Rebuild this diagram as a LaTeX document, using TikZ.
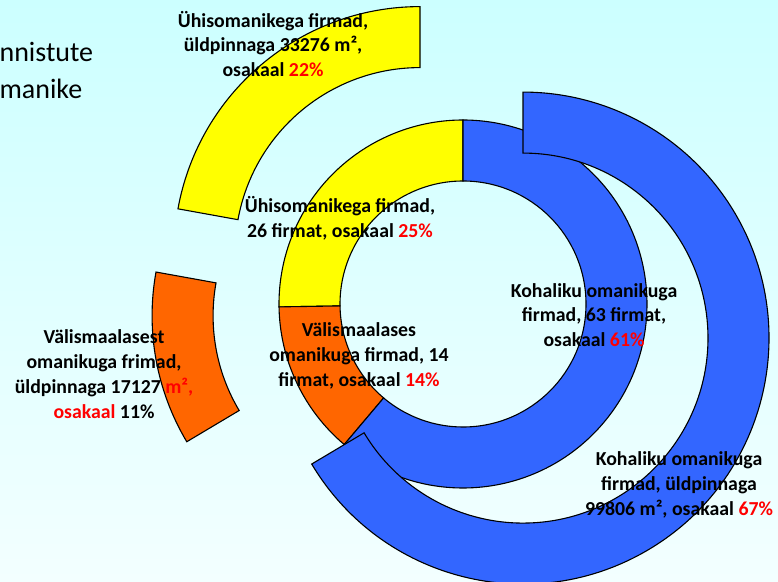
\documentclass[tikz,border=0pt]{standalone}
\usepackage{fontspec}
\setmainfont{Carlito}
\usetikzlibrary{positioning}

\definecolor{skytop}{RGB}{204,255,255}
\definecolor{skybot}{RGB}{243,255,255}
\definecolor{pieyellow}{RGB}{255,255,0}
\definecolor{pieorange}{RGB}{255,102,0}
\definecolor{pieblue}{RGB}{51,102,255}

% ring piece: colour, centre, inner r, outer r, from, to, explode angle, explode dist
\newcommand{\ringpart}[8]{%
  \filldraw[fill=#1, shift={(#2)}, shift={(#7:#8)}]
    (#5:#4) arc[start angle=#5, end angle=#6, radius=#4]
    -- (#6:#3) arc[start angle=#6, end angle=#5, radius=#3] -- cycle;}

\begin{document}
\begin{tikzpicture}[x=1pt,y=1pt,line width=1.1pt,
    lbl/.style={font=\bfseries\fontsize{19.8}{24.8}\selectfont, align=center, inner sep=0pt},
    ttl/.style={font=\fontsize{28}{37}\selectfont, align=left, inner sep=0pt, anchor=west}]
    \useasboundingbox (0,0) rectangle (778,581);
    \shade[top color=skytop, bottom color=skybot] (0,0) rectangle (778,581);
    \coordinate (C) at (463,277);

    % inner ring
    \ringpart{pieyellow}{C}{123}{184}{90}{180.9}{0}{0}
    \ringpart{pieorange}{C}{123}{184}{180.9}{229.8}{0}{0}
    \ringpart{pieblue}{C}{123}{184}{229.8}{450}{0}{0}

    % outer ring, pulled apart
    \ringpart{pieyellow}{C}{185}{246}{90}{169.75}{129.9}{67}
    \ringpart{pieorange}{C}{185}{246}{169.75}{210.8}{190.3}{66}
    \ringpart{pieblue}{C}{185}{246}{210.8}{450}{330.4}{69}

    \node[ttl] (title) at (-1,529) {nnistute};
    \node[ttl] (title2) at (-1,492) {manike};

    \node[lbl] (yellowout) at (273,537) {Ühisomanikega firmad,\\ üldpinnaga 33276 m²,\\ osakaal \textcolor{red}{22\%}};
    \node[lbl] (yellowin) at (340,363) {Ühisomanikega firmad,\\ 26 firmat, osakaal \textcolor{red}{25\%}};
    \node[lbl] (orangeout) at (104,207) {Välismaalasest\\ omanikuga frimad,\\ üldpinnaga 17127 \textcolor{red}{m²,}\\ \textcolor{red}{osakaal} 11\%};
    \node[lbl] (orangein) at (359,225) {Välismaalases\\ omanikuga firmad, 14\\ firmat, osakaal \textcolor{red}{14\%}};
    \node[lbl] (bluein) at (594,266) {Kohaliku omanikuga\\ firmad, 63 firmat,\\ osakaal \textcolor{red}{61\%}};
    \node[lbl] (blueout) at (679,96) {Kohaliku omanikuga\\ firmad, üldpinnaga\\ 99806 m², osakaal \textcolor{red}{67\%}};
\end{tikzpicture}
\end{document}
